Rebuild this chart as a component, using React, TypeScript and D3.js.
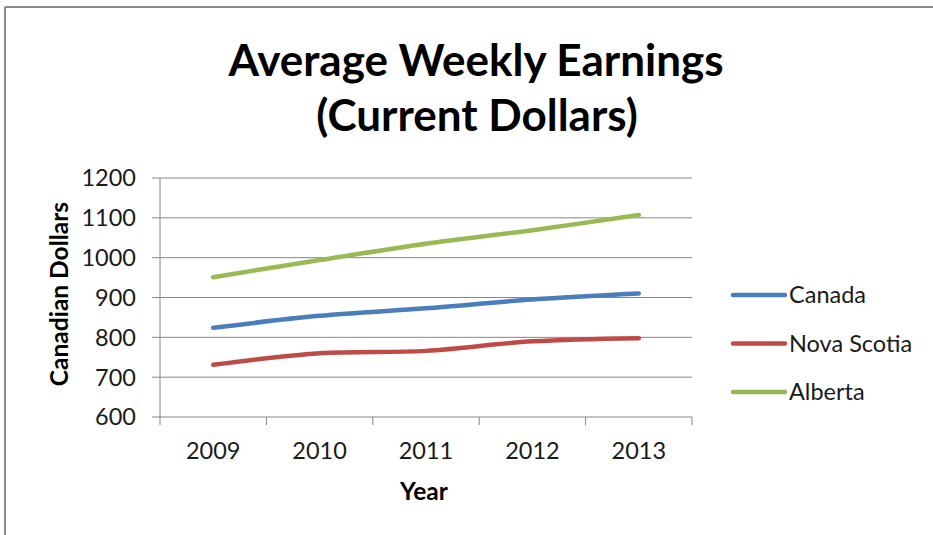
import React, { useEffect, useRef } from "react";
import * as d3 from "d3";

const years = ["2009", "2010", "2011", "2012", "2013"];
const canada = [824, 854, 873, 895, 910];
const novaScotia = [731, 760, 766, 790, 798];
const alberta = [951, 994, 1035, 1069, 1107];
const seriesNames = ["Canada", "Nova Scotia", "Alberta"];
const seriesColors = ["#4a7ebb", "#be4b48", "#98b954"];
const yTicks = [600, 700, 800, 900, 1000, 1100, 1200];

const W = 933;
const H = 535;
const FONT = "Lato, 'Noto Sans', sans-serif";

export default function App() {
  const ref = useRef<SVGSVGElement>(null);
  useEffect(() => {
    const svg = d3.select(ref.current);
    svg.selectAll("*").remove();
    const left = 160, right = 692, top = 178, bottom = 417;
    const x = d3.scaleBand().domain(years).range([left, right]);
    const y = d3.scaleLinear().domain([600, 1200]).range([bottom, top]);
    const axisColor = "#868686";

    svg.append("rect").attr("width", W).attr("height", H).attr("fill", "#fff");
    // outer border (cropped chart area)
    svg.append("line").attr("x1", 5).attr("x2", W).attr("y1", 7).attr("y2", 7)
      .attr("stroke", "#8c8c8c").attr("stroke-width", 2);
    svg.append("line").attr("x1", 5).attr("x2", 5).attr("y1", 7).attr("y2", H)
      .attr("stroke", "#8c8c8c").attr("stroke-width", 2);

    // title
    const title = svg.append("text").attr("text-anchor", "middle")
      .attr("font-family", FONT).attr("font-weight", "bold").attr("font-size", 44).attr("fill", "#000");
    title.append("tspan").attr("x", 476).attr("y", 76).text("Average Weekly Earnings");
    title.append("tspan").attr("x", 477).attr("y", 131).text("(Current Dollars)");

    // gridlines + y ticks
    yTicks.forEach((t) => {
      svg.append("line").attr("x1", left - 8).attr("x2", right)
        .attr("y1", y(t)).attr("y2", y(t)).attr("stroke", axisColor).attr("stroke-width", 1);
      svg.append("text").attr("x", 136).attr("y", y(t)).attr("dy", "0.36em")
        .attr("text-anchor", "end").attr("font-family", FONT).attr("font-size", 23.5)
        .attr("fill", "#1a1a1a").text(String(t));
    });
    // y axis
    svg.append("line").attr("x1", left).attr("x2", left).attr("y1", top).attr("y2", bottom)
      .attr("stroke", axisColor).attr("stroke-width", 1);
    // x ticks
    const tickXs = years.map((yr) => x(yr)!).concat([right]);
    tickXs.forEach((tx) => {
      svg.append("line").attr("x1", tx).attr("x2", tx).attr("y1", bottom).attr("y2", bottom + 8)
        .attr("stroke", axisColor).attr("stroke-width", 1);
    });
    years.forEach((yr) => {
      svg.append("text").attr("x", x(yr)! + x.bandwidth() / 2).attr("y", 459)
        .attr("text-anchor", "middle").attr("font-family", FONT).attr("font-size", 23.5)
        .attr("fill", "#1a1a1a").text(yr);
    });

    // axis titles
    svg.append("text").attr("x", 424).attr("y", 500).attr("text-anchor", "middle")
      .attr("font-family", FONT).attr("font-weight", "bold").attr("font-size", 24.5).text("Year");
    svg.append("text").attr("transform", "translate(68,294) rotate(-90)").attr("text-anchor", "middle")
      .attr("font-family", FONT).attr("font-weight", "bold").attr("font-size", 24.5).text("Canadian Dollars");

    // lines
    const data = [canada, novaScotia, alberta];
    const line = d3.line<number>()
      .x((_, i) => x(years[i])! + x.bandwidth() / 2)
      .y((v) => y(v))
      .curve(d3.curveCatmullRom.alpha(0.5));
    data.forEach((vals, i) => {
      svg.append("path").attr("d", line(vals)!).attr("fill", "none")
        .attr("stroke", seriesColors[i]).attr("stroke-width", 4.5).attr("stroke-linecap", "round");
    });

    // legend
    seriesNames.forEach((name, i) => {
      const ly = 295 + i * 48.5;
      svg.append("line").attr("x1", 733).attr("x2", 785).attr("y1", ly).attr("y2", ly)
        .attr("stroke", seriesColors[i]).attr("stroke-width", 4.5).attr("stroke-linecap", "round");
      svg.append("text").attr("x", 789).attr("y", ly).attr("dy", "0.36em")
        .attr("font-family", FONT).attr("font-size", 23.5).attr("fill", "#1a1a1a").text(name);
    });
  }, []);
  return (
    <svg ref={ref} width={W} height={H} style={{ position: "absolute", left: 0, top: 0 }} />
  );
}
